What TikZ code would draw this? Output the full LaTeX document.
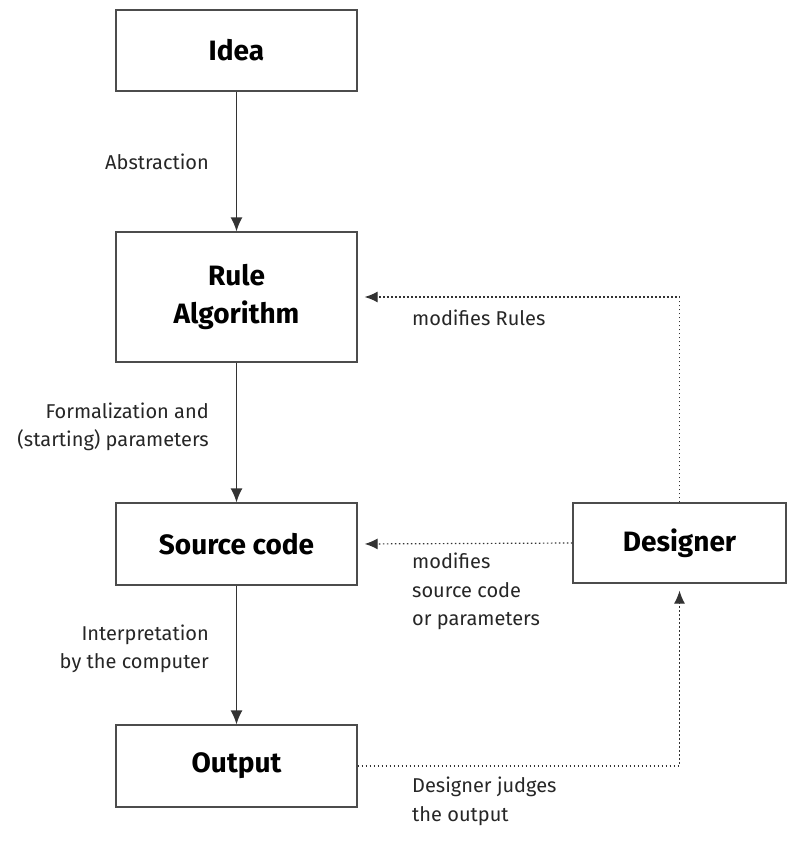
\documentclass[tikz,border=0pt]{standalone}
\usepackage{fontspec}
\setmainfont{Fira Sans}
\usetikzlibrary{arrows.meta}

\begin{document}
\begin{tikzpicture}[x=1pt, y=-1pt,
    box/.style={draw=black!70, line width=1.3pt, minimum width=241pt, inner sep=0pt,
        font=\fontsize{28}{38}\selectfont\bfseries, text=black},
    note/.style={inner sep=0pt, text=black!85,
        font=\fontsize{20}{28.5}\selectfont},
    flow/.style={draw=black!80, line width=1.4pt, -{Latex[length=14pt,width=12pt]}},
    back/.style={draw=black!80, line width=1.2pt, dash pattern=on 1.5pt off 2.5pt,
        -{Latex[length=13pt,width=11pt]}, shorten >=7pt}]

    % Frame of the page
    \useasboundingbox (0,0) rectangle (798,842);

    % Main chain
    \node[box, minimum height=81pt] (idea) at (236.5,50.5) {Idea};
    \node[box, minimum height=130pt, align=center] (rule) at (236.5,297) {Rule\\Algorithm};
    \node[box, minimum height=82pt] (source) at (236.5,544) {Source code};
    \node[box, minimum height=82pt] (output) at (236.5,766) {Output};

    % Designer on the right
    \node[box, minimum width=213pt, minimum height=80pt] (designer) at (679.5,543) {Designer};

    % Solid arrows
    \draw[flow] (idea) -- (rule);
    \draw[flow] (rule) -- (source);
    \draw[flow] (source) -- (output);

    % Dotted feedback arrows
    \draw[back] (designer.north) |- (rule.east);
    \draw[back] (designer.west) -- (source.east);
    \draw[back] (output.east) -| (designer.south);

    % Labels on the left
    \node[note, anchor=east] (abstr) at (209,162) {Abstraction};
    \node[note, anchor=east, align=right] (formal) at (209,427) {Formalization and\\(starting) parameters};
    \node[note, anchor=east, align=right] (interp) at (209,649) {Interpretation\\by the computer};

    % Labels on the right
    \node[note, anchor=west] (modrule) at (412,318) {modifies Rules};
    \node[note, anchor=north west, align=left] (modsrc) at (412,553) {modifies\\source code\\or parameters};
    \node[note, anchor=north west, align=left] (judge) at (412,777) {Designer judges\\the output};
\end{tikzpicture}
\end{document}
